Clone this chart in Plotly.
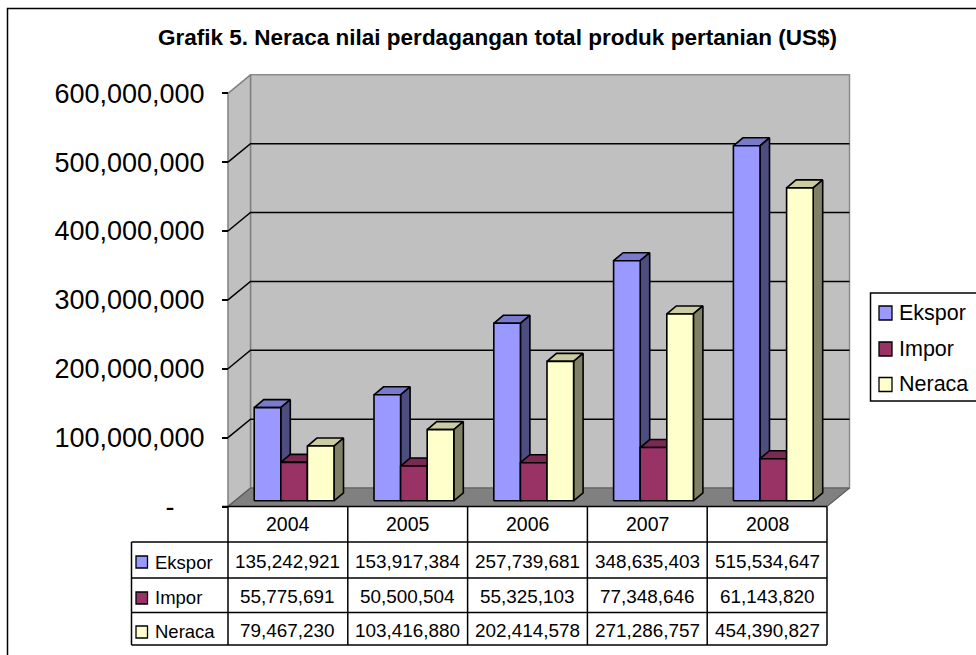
import plotly.graph_objects as go

title = "Grafik 5. Neraca nilai perdagangan total produk pertanian (US$)"
years = ["2004", "2005", "2006", "2007", "2008"]
ekspor = [135242921, 153917384, 257739681, 348635403, 515534647]
impor = [55775691, 50500504, 55325103, 77348646, 61143820]
neraca = [79467230, 103416880, 202414578, 271286757, 454390827]
series_names = ["Ekspor", "Impor", "Neraca"]
series_values = [ekspor, impor, neraca]
front_colors = ["#9999FF", "#993366", "#FFFFCC"]
top_colors = ["#7A7ACC", "#7A2952", "#CCCCA3"]
side_colors = ["#4D4D80", "#4D1A33", "#808066"]
tick_vals = [0, 100000000, 200000000, 300000000, 400000000, 500000000, 600000000]
tick_text = ["-\u00a0\u00a0\u00a0\u00a0", "100,000,000", "200,000,000", "300,000,000",
             "400,000,000", "500,000,000", "600,000,000"]

W, H = 976, 655
FONT = "Liberation Sans"
# plot frame in pixels
X0, Y0 = 228.0, 506.5      # front-left corner at value 0
CAT_W = 119.8              # width of a category
PX_PER_UNIT = 413.2 / 6e8

def yv(px):   # pixel height -> value units
    return px / PX_PER_UNIT
def xv(px):   # pixel width -> category units
    return px / CAT_W

WALL_DX, WALL_DY = xv(22.5), yv(18.5)
BAR_DX, BAR_DY = xv(9.5), yv(8)
BAR_SHIFT_X, BAR_BASE = xv(6.2), yv(5.7)
BAR_W = xv(26.6)

XMIN = -0.5
XR = 4.5

fig = go.Figure()

def poly(xs, ys, fill, line="black", lw=1.6):
    fig.add_trace(go.Scatter(x=xs + xs[:1], y=ys + ys[:1], mode="lines", fill="toself",
                             fillcolor=fill, line=dict(color=line, width=lw),
                             hoverinfo="skip", showlegend=False))

def seg(xs, ys, color="black", lw=1.5):
    fig.add_trace(go.Scatter(x=xs, y=ys, mode="lines", line=dict(color=color, width=lw),
                             hoverinfo="skip", showlegend=False))

top_v = tick_vals[-1]
# back wall, side wall, floor
poly([XMIN + WALL_DX, XR + WALL_DX, XR + WALL_DX, XMIN + WALL_DX],
     [WALL_DY, WALL_DY, top_v + WALL_DY, top_v + WALL_DY], "#C0C0C0", "#8C8C8C", 1.5)
poly([XMIN, XMIN + WALL_DX, XMIN + WALL_DX, XMIN],
     [0, WALL_DY, top_v + WALL_DY, top_v], "#C0C0C0", "#808080", 1.5)
poly([XMIN, XR, XR + WALL_DX, XMIN + WALL_DX],
     [0, 0, WALL_DY, WALL_DY], "#808080", "#5A5A5A", 1.2)
# gridlines
for v in tick_vals[1:-1]:
    seg([XMIN, XMIN + WALL_DX, XR + WALL_DX], [v, v + WALL_DY, v + WALL_DY])
# floor front edge
seg([XMIN - xv(6), XR], [0, 0], "black", 1.6)

# bars, painted left to right
for c in range(len(years)):
    for s, vals in enumerate(series_values):
        x1 = c + BAR_SHIFT_X + (s - 1.5) * BAR_W
        x2 = x1 + BAR_W
        b = BAR_BASE
        t = b + vals[c]
        poly([x1, x2, x2 + BAR_DX, x1 + BAR_DX], [t, t, t + BAR_DY, t + BAR_DY], top_colors[s])
        poly([x2, x2 + BAR_DX, x2 + BAR_DX, x2], [b, b + BAR_DY, t + BAR_DY, t], side_colors[s])
        poly([x1, x2, x2, x1], [b, b, t, t], front_colors[s])

shapes = []
annotations = []

def line_px(x1, y1, x2, y2, color="black", w=1.5):
    shapes.append(dict(type="line", xref="paper", yref="paper",
                       x0=(x1) / W, y0=1 - y1 / H, x1=(x2) / W, y1=1 - y2 / H,
                       line=dict(color=color, width=w), layer="above"))

def rect_px(x1, y1, x2, y2, fill, line="black", w=1.5, layer="above"):
    shapes.append(dict(type="rect", xref="paper", yref="paper",
                       x0=x1 / W, y0=1 - y1 / H, x1=x2 / W, y1=1 - y2 / H,
                       fillcolor=fill, line=dict(color=line, width=w), layer=layer))

def text_px(x, y, s, size, anchor="left", bold=False):
    annotations.append(dict(xref="paper", yref="paper", x=x / W, y=1 - y / H, text=f"<b>{s}</b>" if bold else s,
                            showarrow=False, xanchor=anchor, yanchor="middle",
                            font=dict(family=FONT, size=size, color="black"),
                            borderpad=0, borderwidth=0))

# chart frame (runs past the right and bottom edges, as in the source)
rect_px(7.5, 8.5, 1000, 700, "rgba(0,0,0,0)", "black", 1.5, "below")

# title
text_px(497, 38, title, 22.5, "center", True)

# data table
ROW_Y = [506.5, 542, 578, 612.5, 645]
row_centers = [561.5, 596.5, 630.5]
cell_edges = [X0 + CAT_W * i for i in range(len(years) + 1)]
KEY_L = 131.5
for xe in cell_edges:
    line_px(xe, ROW_Y[0], xe, ROW_Y[-1])
line_px(KEY_L, ROW_Y[1], KEY_L, ROW_Y[-1])
for ry in ROW_Y[1:]:
    line_px(KEY_L, ry, cell_edges[-1], ry)
for i, y in enumerate(years):
    text_px((cell_edges[i] + cell_edges[i + 1]) / 2, 524, y, 19.5, "center")
key_tops = [556, 592, 626]
for s, name in enumerate(series_names):
    rect_px(136, key_tops[s], 147.5, key_tops[s] + 12, front_colors[s], "black", 1.3)
    text_px(155, row_centers[s] + 1, name, 18.5)
    for c in range(len(years)):
        text_px((cell_edges[c] + cell_edges[c + 1]) / 2, row_centers[s], f"{series_values[s][c]:,}", 18.9, "center")

# legend
rect_px(870.5, 293, 990, 401, "white", "black", 1.5)
leg_tops = [306, 342, 377.5]
for s, name in enumerate(series_names):
    rect_px(879, leg_tops[s], 892, leg_tops[s] + 14, front_colors[s], "black", 1.3)
    text_px(899, leg_tops[s] + 7, name, 21.5)

fig.update_layout(
    width=W, height=H, autosize=False,
    margin=dict(l=0, r=0, t=0, b=0, pad=0),
    paper_bgcolor="white", plot_bgcolor="rgba(0,0,0,0)",
    showlegend=False,
    font=dict(family=FONT, color="black"),
    shapes=shapes, annotations=annotations,
    xaxis=dict(domain=[0, 1], range=[XMIN - xv(X0), XMIN + xv(W - X0)], visible=False, fixedrange=True),
    yaxis=dict(domain=[0, 1], range=[-yv(H - Y0), yv(Y0)], showgrid=False, zeroline=False, showline=False,
               tickmode="array", tickvals=tick_vals, ticktext=tick_text,
               ticks="inside", ticklen=0, showticklabels=False, fixedrange=True),
)

# value axis on the front-left edge
fig.update_layout(
    yaxis2=dict(overlaying="y", anchor="free", position=X0 / W, side="left",
                domain=[0, 1], range=[-yv(H - Y0), yv(Y0)],
                tickmode="array", tickvals=tick_vals, ticktext=tick_text,
                ticks="outside", ticklen=6, tickwidth=1.5, tickcolor="black",
                ticklabelstandoff=12,
                tickfont=dict(family=FONT, size=27, color="black"),
                showgrid=False, zeroline=False, showline=False, fixedrange=True)
)
fig.add_trace(go.Scatter(x=[XMIN], y=[0], yaxis="y2", mode="markers", marker=dict(opacity=0),
                         hoverinfo="skip", showlegend=False))

fig.write_html("out.html", config=dict(displayModeBar=False),
               post_script="document.body.style.margin='0';document.body.style.overflow='hidden';")
